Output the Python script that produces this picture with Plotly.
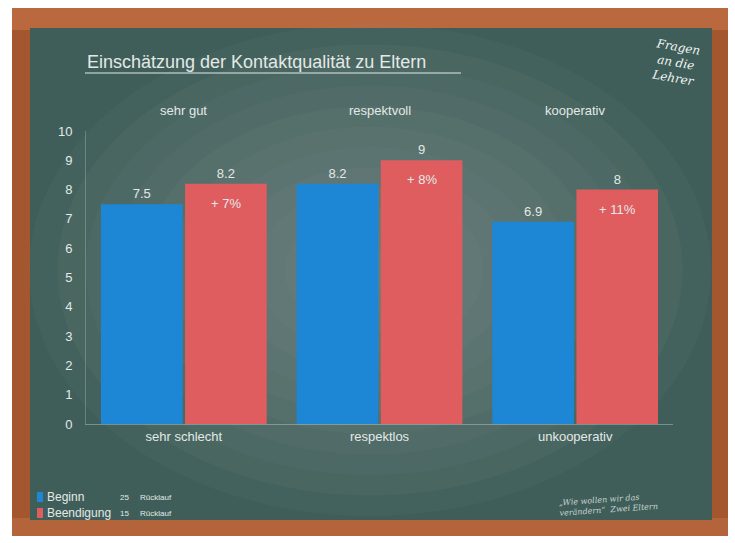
import plotly.graph_objects as go

# ---- data ----
top_labels = ["sehr gut", "respektvoll", "kooperativ"]
bottom_labels = ["sehr schlecht", "respektlos", "unkooperativ"]
beginn = [7.5, 8.2, 6.9]
beendigung = [8.2, 9, 8]
change_labels = ["+ 7%", "+ 8%", "+ 11%"]
series_names = ["Beginn", "Beendigung"]
ruecklauf = ["25", "15"]
y_ticks = list(range(0, 11))

# ---- style ----
W, H = 735, 543
L, R, T, B = 86, 673, 131, 424
BLUE = "#1d87d6"
RED = "#e05d5f"
CHALK = "#e3e9e7"
FONT = "Liberation Sans, Arial, sans-serif"


def px(x):
    return (x - L) / (R - L)


def py(y):
    return (B - y) / (B - T)


fig = go.Figure()
fig.add_trace(go.Bar(
    x=bottom_labels, y=beginn, name=series_names[0], marker=dict(color=BLUE, line=dict(width=0)),
    text=[f"{v:g}" for v in beginn], textposition="outside", cliponaxis=False,
    textfont=dict(color=CHALK, size=13, family=FONT),
))
fig.add_trace(go.Bar(
    x=bottom_labels, y=beendigung, name=series_names[1], marker=dict(color=RED, line=dict(width=0)),
    text=[f"{v:g}" for v in beendigung], textposition="outside", cliponaxis=False,
    textfont=dict(color=CHALK, size=13, family=FONT),
))

shapes = []
# frame
shapes.append(dict(type="rect", xref="paper", yref="paper", x0=px(12), x1=px(728), y0=py(536), y1=py(8),
                   fillcolor="#a4562f", line=dict(width=0), layer="below"))
shapes.append(dict(type="rect", xref="paper", yref="paper", x0=px(12), x1=px(728), y0=py(30), y1=py(8),
                   fillcolor="#b9693d", line=dict(width=0), layer="below"))
shapes.append(dict(type="rect", xref="paper", yref="paper", x0=px(12), x1=px(728), y0=py(536), y1=py(518),
                   fillcolor="#b4643a", line=dict(width=0), layer="below"))
# board with soft lighter centre
BX0, BX1, BY0, BY1 = 30, 712, 28, 520
shapes.append(dict(type="rect", xref="paper", yref="paper", x0=px(BX0), x1=px(BX1), y0=py(BY1), y1=py(BY0),
                   fillcolor="#3f5e59", line=dict(width=0), layer="below"))
cx, cy = 370, 270
n = 12
for i in range(n):
    f = 1 - i / n
    hw = (BX1 - BX0) / 2 * f
    hh = (BY1 - BY0) / 2 * f
    shapes.append(dict(type="circle", xref="paper", yref="paper",
                       x0=px(cx - hw), x1=px(cx + hw), y0=py(cy + hh), y1=py(cy - hh),
                       fillcolor="rgba(140,162,158,0.07)", line=dict(width=0), layer="below"))
# title underline
shapes.append(dict(type="line", xref="paper", yref="paper", x0=px(85), x1=px(461), y0=py(73), y1=py(73),
                   line=dict(color=CHALK, width=1.2)))

annotations = []
annotations.append(dict(text="Einschätzung der Kontaktqualität zu Eltern", xref="paper", yref="paper",
                        x=px(85), y=py(62), xanchor="left", yanchor="middle", showarrow=False,
                        font=dict(color=CHALK, size=18, family=FONT)))
annotations.append(dict(text="Fragen<br>an die<br>Lehrer", xref="paper", yref="paper",
                        x=px(676), y=py(62), xanchor="center", yanchor="middle", showarrow=False,
                        textangle=10, font=dict(color="#f2f5f4", size=12, family="DejaVu Serif", style="italic")))
annotations.append(dict(text="„Wie wollen wir das<br>verändern“  Zwei Eltern", xref="paper", yref="paper",
                        x=px(608), y=py(504), xanchor="center", yanchor="middle", showarrow=False,
                        textangle=-4, align="left",
                        font=dict(color="rgba(235,240,238,0.8)", size=8, family="DejaVu Serif", style="italic")))
for lab, cat in zip(top_labels, bottom_labels):
    annotations.append(dict(text=lab, x=cat, xref="x", yref="paper", y=py(110), xanchor="center",
                            yanchor="middle", showarrow=False, font=dict(color=CHALK, size=13, family=FONT)))
for lab, cat, v in zip(change_labels, bottom_labels, beendigung):
    annotations.append(dict(text=lab, x=cat, xref="x", y=v, yref="y", xshift=42, yshift=-10,
                            xanchor="center", yanchor="top", showarrow=False,
                            font=dict(color=CHALK, size=13, family=FONT)))
# legend (custom, chalk style)
for i, (name, col, rl) in enumerate(zip(series_names, [BLUE, RED], ruecklauf)):
    yc = 497 + i * 16
    shapes.append(dict(type="rect", xref="paper", yref="paper", x0=px(37), x1=px(43), y0=py(yc + 5),
                       y1=py(yc - 5), fillcolor=col, line=dict(width=0)))
    annotations.append(dict(text=name, xref="paper", yref="paper", x=px(45), y=py(yc), xanchor="left",
                            yanchor="middle", showarrow=False, font=dict(color=CHALK, size=12, family=FONT)))
    annotations.append(dict(text=rl, xref="paper", yref="paper", x=px(118), y=py(yc), xanchor="left",
                            yanchor="middle", showarrow=False, font=dict(color=CHALK, size=8, family=FONT)))
    annotations.append(dict(text="Rücklauf", xref="paper", yref="paper", x=px(138), y=py(yc), xanchor="left",
                            yanchor="middle", showarrow=False, font=dict(color=CHALK, size=8, family=FONT)))

fig.update_layout(
    width=W, height=H,
    margin=dict(l=L, r=W - R, t=T, b=H - B, pad=0),
    paper_bgcolor="white", plot_bgcolor="rgba(0,0,0,0)",
    barmode="group", bargap=0.14, bargroupgap=0.03,
    showlegend=False,
    shapes=shapes, annotations=annotations,
    font=dict(family=FONT, color=CHALK),
)
fig.update_xaxes(range=[-0.5, 2.5], showgrid=False, zeroline=False, showline=True,
                 linecolor="rgba(230,235,233,0.35)", linewidth=1,
                 tickfont=dict(color=CHALK, size=13, family=FONT), ticks="", ticklen=0)
fig.update_yaxes(range=[0, 10], tickvals=y_ticks, showgrid=False, zeroline=False, showline=True,
                 linecolor="rgba(230,235,233,0.25)", linewidth=1, ticklabelstandoff=10,
                 tickfont=dict(color=CHALK, size=13, family=FONT), ticks="")

fig.write_html("out.html")
